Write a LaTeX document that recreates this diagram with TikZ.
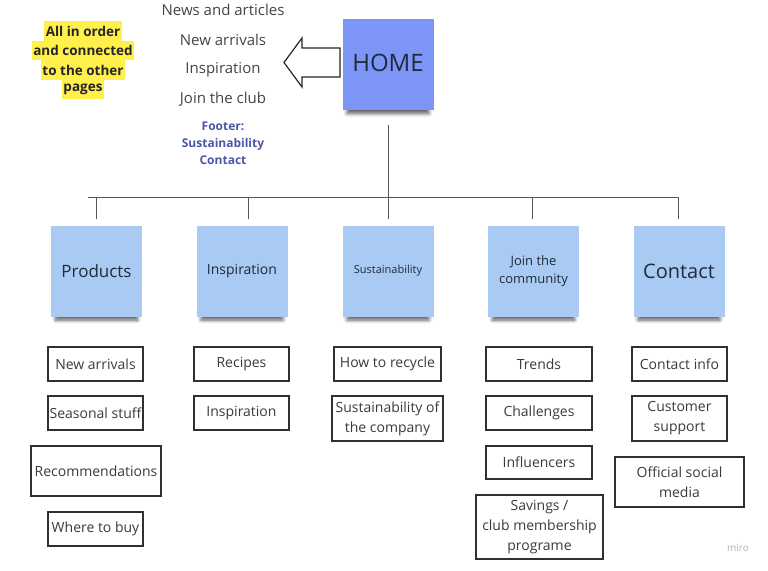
\documentclass[tikz,border=0pt]{standalone}
\usepackage{fontspec}
\setmainfont{Open Sans}
\usetikzlibrary{shadows.blur}

\definecolor{homeblue}{HTML}{7D95F6}
\definecolor{stickyblue}{HTML}{A9CAF2}
\definecolor{stickytext}{HTML}{1E2B3A}
\definecolor{boxline}{HTML}{303030}
\definecolor{boxtext}{HTML}{3A3A3A}
\definecolor{menutext}{HTML}{444444}
\definecolor{footertext}{HTML}{4A55A8}
\definecolor{hlyellow}{HTML}{FFF04C}
\definecolor{wiregray}{HTML}{555555}

\begin{document}
\begin{tikzpicture}[x=1pt, y=-1pt,
    sticky/.style={fill=stickyblue, minimum width=91, minimum height=91, inner sep=2pt, align=center, text=stickytext,
      blur shadow={shadow xshift=0pt, shadow yshift=-9pt, shadow scale=0.9, shadow opacity=65, shadow blur radius=4pt, shadow blur steps=8}},
    page/.style={draw=boxline, line width=1.3pt, align=center, text=boxtext, inner sep=1pt, font=\fontsize{14}{20}\selectfont},
    menu/.style={text=menutext, font=\fontsize{15}{18}\selectfont},
    note/.style={fill=hlyellow, text=black!85, inner xsep=1.5pt, inner ysep=0pt, minimum height=19.5, font=\bfseries\fontsize{13.5}{16}\selectfont},
    wire/.style={draw=wiregray, line width=1pt}]
    \useasboundingbox (0,0) rectangle (768,570);

    \node [sticky, fill=homeblue, font=\fontsize{24}{28}\selectfont, text depth=4pt] (home) at (388,64.5) {HOME};
    \draw [line width=1.2pt, draw=black!85, fill=white] (340,48) -- (302,48) -- (302,38) -- (284,62.5) -- (302,87) -- (302,77) -- (340,77) -- cycle;

    \node [menu] (news) at (223,10) {News and articles};
    \node [menu] (arrivals) at (223,40) {New arrivals};
    \node [menu] (inspire) at (223,69.5) {Inspiration};
    \node [menu] (club) at (223,99) {Join the club};
    \node [text=footertext, align=center, font=\bfseries\fontsize{12}{17}\selectfont] (footer) at (223,143) {Footer:\\Sustainability\\Contact};

    \node [note] (n1) at (83,31) {All in order};
    \node [note] (n2) at (83,50.5) {and connected};
    \node [note] (n3) at (83,70) {to the other};
    \node [note] (n4) at (83,89.5) {pages};

    \node [sticky, font=\fontsize{17}{20}\selectfont] (prod) at (96.5,271) {Products};
    \node [sticky, font=\fontsize{14}{18}\selectfont] (insp) at (242,271) {Inspiration};
    \node [sticky, font=\fontsize{11}{14}\selectfont] (sus) at (388,271) {Sustainability};
    \node [sticky, font=\fontsize{13}{18}\selectfont] (join) at (533.5,271) {Join the\\community};
    \node [sticky, font=\fontsize{20}{24}\selectfont] (cont) at (679,271) {Contact};

    \coordinate (barL) at (88,197);
    \coordinate (barR) at (678,197);
    \draw [wire] (barL) -- (barR);
    \draw [wire, shorten <=15pt, shorten >=6pt] (home.south) -- (sus.north);
    \foreach \n/\x in {prod/96, insp/248, join/532, cont/678} {
        \coordinate (d-\n) at (\x,197);
        \draw [wire, shorten >=6pt] (d-\n) -- (d-\n |- \n.north);
    }

    \node [page, minimum width=95, minimum height=34] (p1) at (95.5,364) {New arrivals};
    \node [page, minimum width=95, minimum height=34] (p2) at (95.5,413) {Seasonal stuff};
    \node [page, minimum width=130, minimum height=50] (p3) at (96,471) {Recommendations};
    \node [page, minimum width=95, minimum height=34] (p4) at (95.5,529) {Where to buy};

    \node [page, minimum width=95, minimum height=34] (i1) at (241.5,364) {Recipes};
    \node [page, minimum width=95, minimum height=34] (i2) at (241.5,413) {Inspiration};

    \node [page, minimum width=107, minimum height=34] (s1) at (387.5,364) {How to recycle};
    \node [page, minimum width=111, minimum height=45] (s2) at (387.5,418.5) {Sustainability of\\the company};

    \node [page, minimum width=106, minimum height=34] (j1) at (539,364) {Trends};
    \node [page, minimum width=106, minimum height=34] (j2) at (539,413) {Challenges};
    \node [page, minimum width=106, minimum height=33] (j3) at (539,462.5) {Influencers};
    \node [page, minimum width=127, minimum height=64] (j4) at (539.5,527) {Savings /\\club membership\\programe};

    \node [page, minimum width=95, minimum height=34] (c1) at (679.5,364) {Contact info};
    \node [page, minimum width=95, minimum height=45] (c2) at (679.5,418.5) {Customer\\support};
    \node [page, minimum width=129, minimum height=50] (c3) at (679.5,482) {Official social\\media};

    \node [text=black!30, font=\fontsize{10}{12}\selectfont] (miro) at (738,548) {miro};
\end{tikzpicture}
\end{document}
